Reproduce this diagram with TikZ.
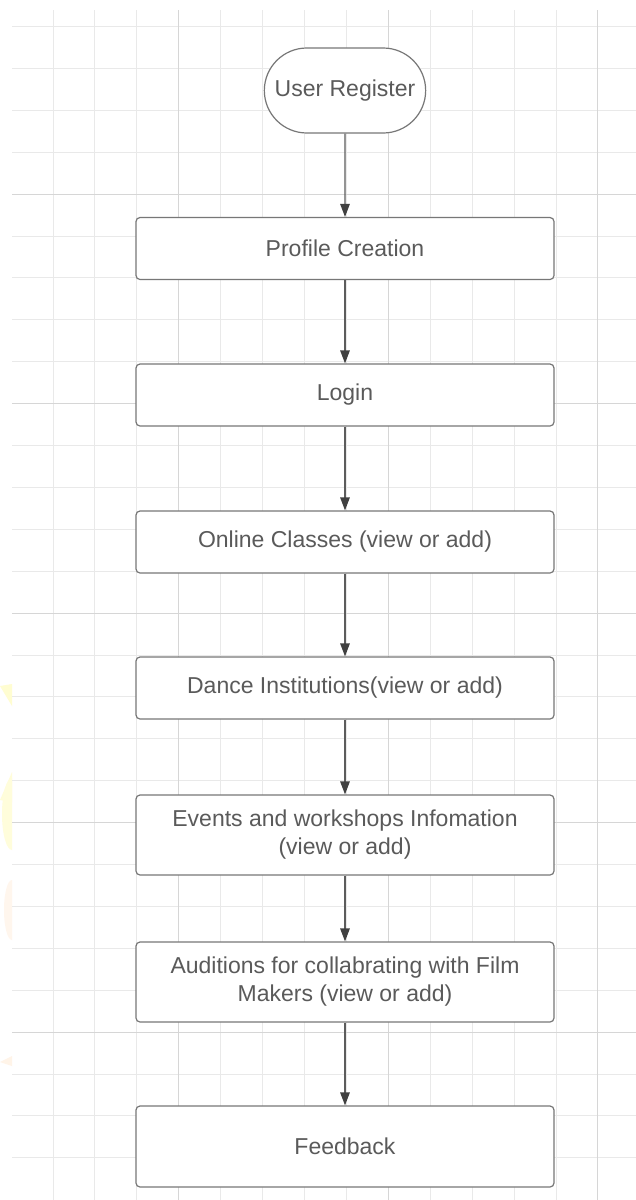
\documentclass[tikz,border=0pt]{standalone}
\usepackage{fontspec}
\setmainfont{Liberation Sans}
\usepackage{tikz}
\usetikzlibrary{arrows.meta}
\usetikzlibrary{shapes.misc}

\definecolor{gridline}{HTML}{E9E9E9}
\definecolor{gridmajor}{HTML}{D6D6D6}
\definecolor{boxline}{HTML}{777777}
\definecolor{boxtext}{HTML}{5A5A5A}
\definecolor{flowline}{HTML}{5C5C5C}

\begin{document}
\begin{tikzpicture}[x=1pt, y=-1pt,
		stepbox/.style={draw=boxline, line width=1.2pt, fill=white, rounded corners=4pt,
			minimum width=418pt, minimum height=62pt, text=boxtext, align=center,
			font=\fontsize{23}{28}\selectfont},
		startbox/.style={rounded rectangle, draw=boxline, line width=1.2pt, fill=white,
			minimum width=168pt, minimum height=85pt, text=boxtext,
			font=\fontsize{23}{28}\selectfont},
		flow/.style={draw=flowline, line width=1.3pt,
			-{Triangle[width=9.5pt,length=13pt,color=black!75]}}]
		\useasboundingbox (0,0) rectangle (636,1200);
		\fill[white] (0,0) rectangle (636,1200);

		% faint marks on the left edge
		\fill[yellow!18] (0,686) -- (12,684) -- (12,706) -- cycle;
		\fill[yellow!15] (0,800) -- (12,772) -- (12,802) -- cycle;
		\fill[yellow!14] (12,850) arc (90:270:10 and 36) -- cycle;
		\fill[orange!7] (12,940) arc (90:270:8 and 30) -- cycle;
		\fill[orange!9] (0,1062) -- (12,1056) -- (12,1066) -- cycle;

		% grid
		\foreach \k in {0,...,13}
			\draw[gridline, line width=1pt] (53+41.92*\k,10) -- (53+41.92*\k,1200);
		\foreach \k in {0,...,27}
			\draw[gridline, line width=1pt] (12,26.5+41.9*\k) -- (636,26.5+41.9*\k);
		\foreach \k in {3,8,13}
			\draw[gridmajor, line width=1pt] (53+41.92*\k,10) -- (53+41.92*\k,1200);
		\foreach \k in {4,9,14,19,24}
			\draw[gridmajor, line width=1pt] (12,26.5+41.9*\k) -- (636,26.5+41.9*\k);

		% flow
		\node[startbox] (register) at (345,90.5) {User Register};
		\node[stepbox] (profile) at (345,248.5) {Profile Creation};
		\node[stepbox] (login) at (345,395) {Login};
		\node[stepbox] (classes) at (345,542) {Online Classes (view or add)};
		\node[stepbox] (institutions) at (345,688) {Dance Institutions(view or add)};
		\node[stepbox, minimum height=80pt] (events) at (345,835) {Events and workshops Infomation\\(view or add)};
		\node[stepbox, minimum height=80pt] (auditions) at (345,982) {Auditions for collabrating with Film\\Makers (view or add)};
		\node[stepbox, minimum height=81pt] (feedback) at (345,1146.5) {Feedback};

		\draw[flow] (register) -- (profile);
		\draw[flow] (profile) -- (login);
		\draw[flow] (login) -- (classes);
		\draw[flow] (classes) -- (institutions);
		\draw[flow] (institutions) -- (events);
		\draw[flow] (events) -- (auditions);
		\draw[flow] (auditions) -- (feedback);
	\end{tikzpicture}
\end{document}
